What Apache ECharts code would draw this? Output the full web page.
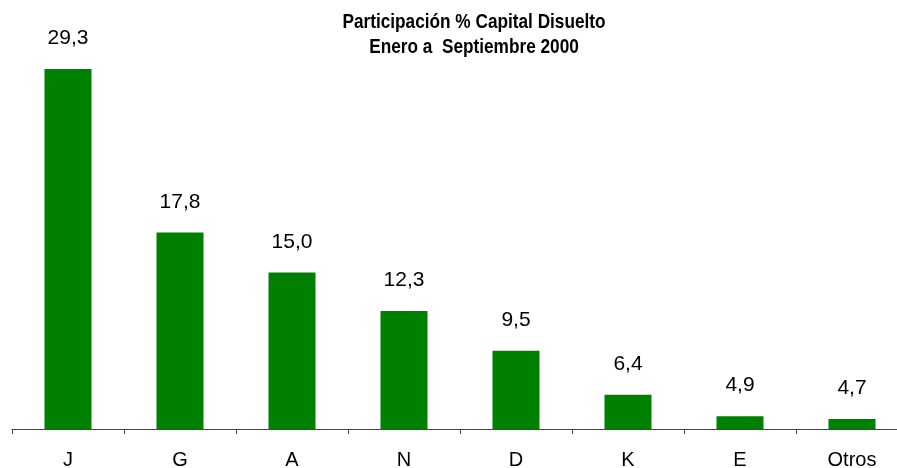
<!DOCTYPE html>
<html>
<head>
<meta charset="utf-8">
<script src="https://cdn.jsdelivr.net/npm/echarts@6/dist/echarts.min.js"></script>
<style>
html,body{margin:0;padding:0;background:#fff;width:897px;height:468px;overflow:hidden;}
#wrap{width:897px;height:468px;overflow:hidden;position:relative;}
#chart{width:908px;height:468px;position:absolute;left:0;top:0;}
</style>
</head>
<body>
<div id="wrap"><div id="chart"></div></div>
<script>
const categories = ['J', 'G', 'A', 'N', 'D', 'K', 'E', 'Otros'];
const values = [29.3, 17.8, 15.0, 12.3, 9.5, 6.4, 4.9, 4.7];
const titleLines = ['Participación % Capital Disuelto', 'Enero a  Septiembre 2000'];

const chart = echarts.init(document.getElementById('chart'), null, {renderer: 'canvas'});
chart.setOption({
  backgroundColor: '#ffffff',
  animation: false,
  graphic: [{
    type: 'text',
    x: 474,
    y: 10,
    scaleX: 0.82,
    style: {
      text: titleLines.join('\n'),
      textAlign: 'center',
      textVerticalAlign: 'top',
      font: 'bold 21px "Liberation Sans", Arial, sans-serif',
      lineHeight: 25,
      fill: '#000'
    }
  }],
  grid: {left: 12, right: 0, top: 59, bottom: 39, containLabel: false, outerBoundsMode: 'none'},
  xAxis: {
    type: 'category',
    data: categories,
    axisLine: {lineStyle: {color: '#444', width: 1}},
    axisTick: {show: true, length: 5, lineStyle: {color: '#444'}},
    axisLabel: {
      margin: 21,
      fontSize: 20,
      fontFamily: '"Liberation Sans", Arial, sans-serif',
      color: '#000'
    }
  },
  yAxis: {
    type: 'value',
    min: 4,
    max: 30,
    show: false,
    splitLine: {show: false}
  },
  series: [{
    type: 'bar',
    data: values,
    barWidth: 47,
    itemStyle: {color: '#008000'},
    label: {
      show: true,
      position: 'top',
      distance: 20,
      fontSize: 21,
      lineHeight: 21,
      fontFamily: '"Liberation Sans", Arial, sans-serif',
      color: '#000',
      formatter: p => p.value.toFixed(1).replace('.', ',')
    }
  }]
});
</script>
</body>
</html>
